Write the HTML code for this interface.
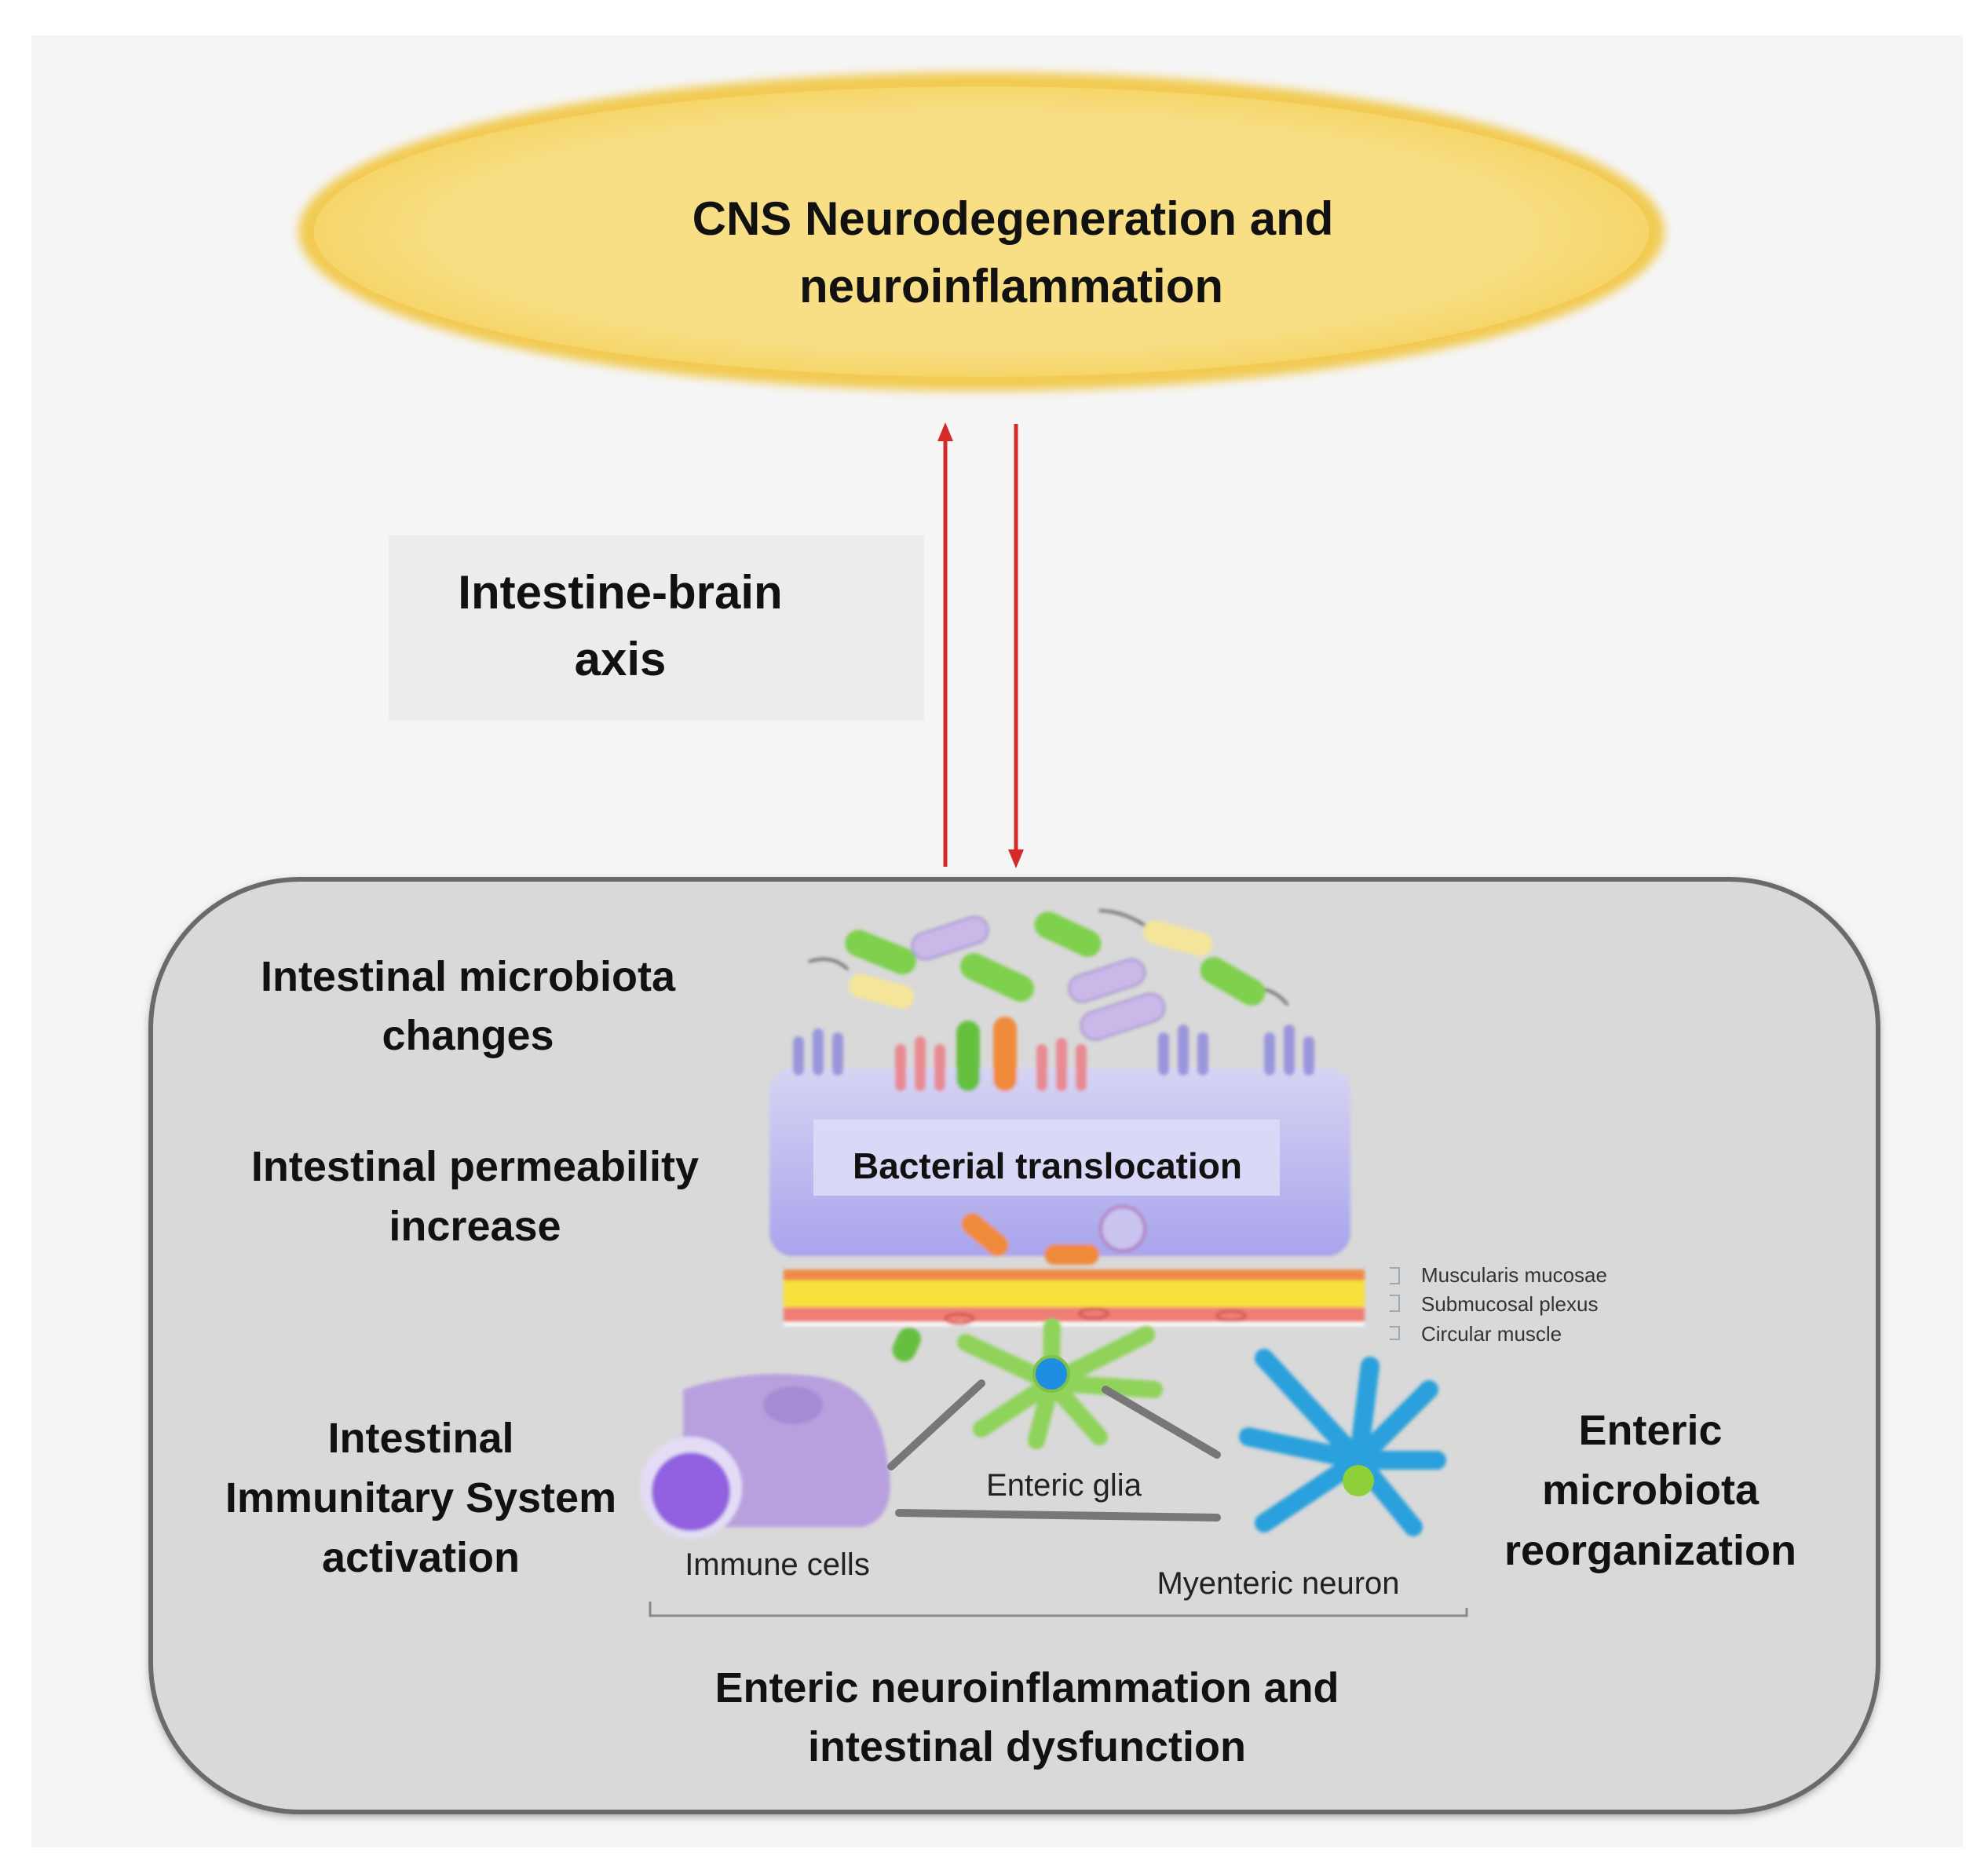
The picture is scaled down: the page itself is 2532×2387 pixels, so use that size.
<!DOCTYPE html>
<html><head><meta charset="utf-8"><style>
html,body{margin:0;padding:0;background:#fff}
svg{display:block}
text{font-family:"Liberation Sans",sans-serif}
</style></head><body>
<svg width="2532" height="2387" viewBox="0 0 2532 2387" xmlns="http://www.w3.org/2000/svg">
<defs>
<filter id="bl" x="-20%" y="-20%" width="140%" height="140%"><feGaussianBlur stdDeviation="6"/></filter>
<filter id="b2"><feGaussianBlur stdDeviation="2"/></filter>
<radialGradient id="eg" cx="50%" cy="50%" r="50%"><stop offset="0.8" stop-color="#f8df86"/><stop offset="1" stop-color="#f6d66a"/></radialGradient>
<linearGradient id="cell" x1="0" y1="0" x2="0" y2="1"><stop offset="0" stop-color="#d6d4f4"/><stop offset="1" stop-color="#a9a4ec"/></linearGradient>
</defs>
<rect x="0" y="0" width="2532" height="2387" fill="#fff"/>
<rect x="40" y="45" width="2460" height="2308" fill="#f5f5f5"/>
<!-- ellipse -->
<ellipse cx="1250" cy="295" rx="870" ry="203" fill="#f2cb52" filter="url(#bl)"/>
<ellipse cx="1250" cy="295" rx="850" ry="185" fill="url(#eg)"/>
<text x="1290" y="299" text-anchor="middle" font-size="60" font-weight="bold" fill="#111">CNS Neurodegeneration and</text>
<text x="1288" y="385" text-anchor="middle" font-size="60" font-weight="bold" fill="#111">neuroinflammation</text>
<!-- arrows -->
<line x1="1204" y1="1104" x2="1204" y2="560" stroke="#d42a2a" stroke-width="5"/>
<polygon points="1204,538 1194,562 1214,562" fill="#d42a2a"/>
<line x1="1294" y1="540" x2="1294" y2="1084" stroke="#d42a2a" stroke-width="5"/>
<polygon points="1294,1106 1284,1082 1304,1082" fill="#d42a2a"/>
<!-- label box -->
<rect x="495" y="682" width="682" height="235" fill="#ececec"/>
<text x="790" y="775" text-anchor="middle" font-size="60" font-weight="bold" fill="#111">Intestine-brain</text>
<text x="790" y="860" text-anchor="middle" font-size="60" font-weight="bold" fill="#111">axis</text>
<!-- big box -->
<rect x="192" y="1124" width="2200" height="1188" rx="190" fill="#888" filter="url(#bl)"/>
<rect x="192" y="1120" width="2200" height="1188" rx="190" fill="#d9d9d9" stroke="#6a6a6a" stroke-width="6"/>
<!-- labels -->
<g font-size="54" font-weight="bold" fill="#111" text-anchor="middle">
<text x="596" y="1262">Intestinal microbiota</text>
<text x="596" y="1337">changes</text>
<text x="605" y="1504">Intestinal permeability</text>
<text x="605" y="1580">increase</text>
<text x="536" y="1850">Intestinal</text>
<text x="536" y="1926">Immunitary System</text>
<text x="536" y="2002">activation</text>
<text x="2102" y="1840">Enteric</text>
<text x="2102" y="1916">microbiota</text>
<text x="2102" y="1993">reorganization</text>
<text x="1308" y="2168">Enteric neuroinflammation and</text>
<text x="1308" y="2243">intestinal dysfunction</text>
</g>
<!-- illustration -->
<g filter="url(#b2)">
<!-- bacteria -->
<g stroke="#555" stroke-width="3" fill="none">
<path d="M1030,1225 q30,-10 50,10"/><path d="M1190,1215 q30,-20 60,-15"/><path d="M1400,1160 q30,0 60,20"/><path d="M1590,1260 q30,-5 50,20"/>
</g>
<g transform="rotate(22 1120 1210)"><rect x="1075" y="1195" width="95" height="34" rx="17" fill="#7ed04e"/></g>
<g transform="rotate(-18 1210 1195)"><rect x="1160" y="1178" width="100" height="34" rx="17" fill="#c9b8e8" stroke="#9a88c8" stroke-width="2"/></g>
<g transform="rotate(15 1120 1262)"><rect x="1080" y="1247" width="85" height="30" rx="15" fill="#f5e59a"/></g>
<g transform="rotate(25 1270 1245)"><rect x="1220" y="1228" width="100" height="34" rx="17" fill="#7ed04e"/></g>
<g transform="rotate(25 1360 1190)"><rect x="1315" y="1173" width="90" height="34" rx="17" fill="#7ed04e"/></g>
<g transform="rotate(-18 1410 1250)"><rect x="1360" y="1232" width="100" height="34" rx="17" fill="#c9b8e8" stroke="#9a88c8" stroke-width="2"/></g>
<g transform="rotate(-18 1430 1295)"><rect x="1375" y="1277" width="110" height="36" rx="18" fill="#c9b8e8" stroke="#9a88c8" stroke-width="2"/></g>
<g transform="rotate(15 1500 1195)"><rect x="1455" y="1180" width="90" height="30" rx="15" fill="#f5e59a"/></g>
<g transform="rotate(30 1570 1250)"><rect x="1525" y="1233" width="90" height="34" rx="17" fill="#7ed04e"/></g>
<!-- epithelium -->
<rect x="980" y="1360" width="740" height="240" rx="30" fill="url(#cell)"/>
<g fill="#9a96dc"><rect x="1010" y="1320" width="14" height="50" rx="7"/><rect x="1035" y="1310" width="14" height="60" rx="7"/><rect x="1060" y="1315" width="14" height="55" rx="7"/><rect x="1475" y="1315" width="14" height="55" rx="7"/><rect x="1500" y="1305" width="14" height="65" rx="7"/><rect x="1525" y="1315" width="14" height="55" rx="7"/><rect x="1610" y="1315" width="14" height="55" rx="7"/><rect x="1635" y="1305" width="14" height="65" rx="7"/><rect x="1660" y="1320" width="14" height="50" rx="7"/></g>
<g fill="#e88a92"><rect x="1140" y="1330" width="14" height="60" rx="7"/><rect x="1165" y="1320" width="14" height="70" rx="7"/><rect x="1190" y="1330" width="14" height="60" rx="7"/><rect x="1320" y="1330" width="14" height="60" rx="7"/><rect x="1345" y="1322" width="14" height="68" rx="7"/><rect x="1370" y="1330" width="14" height="60" rx="7"/></g>
<rect x="1218" y="1300" width="30" height="90" rx="15" fill="#66c040"/>
<rect x="1265" y="1295" width="30" height="95" rx="15" fill="#f08a3a"/>
<g transform="rotate(40 1250 1570)"><rect x="1220" y="1555" width="70" height="28" rx="14" fill="#f08a3a"/></g>
<rect x="1330" y="1585" width="70" height="26" rx="13" fill="#f08a3a"/>
<circle cx="1430" cy="1565" r="28" fill="#c9c4f0" stroke="#b27cc0" stroke-width="4"/>
</g>
<rect x="1036" y="1426" width="594" height="97" fill="#dcdaf6" opacity="0.9"/>
<text x="1334" y="1501" text-anchor="middle" font-size="46" font-weight="bold" fill="#111">Bacterial translocation</text>
<!-- muscle band -->
<g filter="url(#b2)">
<rect x="998" y="1617" width="740" height="72" fill="#fff"/>
<rect x="998" y="1617" width="740" height="14" fill="#f08a48"/>
<rect x="998" y="1631" width="740" height="34" fill="#f7e23e"/>
<path d="M998,1665 L1738,1665 L1738,1684 L998,1684 Z" fill="#ef7f76"/>
<g fill="none" stroke="#c44" stroke-width="3"><ellipse cx="1222" cy="1680" rx="18" ry="6"/><ellipse cx="1393" cy="1673" rx="18" ry="6"/><ellipse cx="1568" cy="1676" rx="18" ry="6"/></g>
<rect x="1140" y="1690" width="30" height="45" rx="15" fill="#66c040" transform="rotate(25 1155 1712)"/>
</g>
<g fill="none" stroke="#9ab" stroke-width="2"><path d="M1770,1615 h12 v20 h-12"/><path d="M1770,1650 h12 v20 h-12"/><path d="M1770,1690 h12 v16 h-12"/></g>
<g font-size="26" fill="#333"><text x="1810" y="1633">Muscularis mucosae</text><text x="1810" y="1670">Submucosal plexus</text><text x="1810" y="1708">Circular muscle</text></g>
<!-- glia -->
<g filter="url(#b2)" stroke="#8fd35a" stroke-width="22" stroke-linecap="round">
<line x1="1339" y1="1761" x2="1230" y2="1710"/><line x1="1339" y1="1761" x2="1340" y2="1690"/><line x1="1339" y1="1761" x2="1460" y2="1700"/><line x1="1339" y1="1761" x2="1250" y2="1820"/><line x1="1339" y1="1761" x2="1320" y2="1835"/><line x1="1339" y1="1761" x2="1400" y2="1830"/><line x1="1339" y1="1761" x2="1470" y2="1770"/>
</g>
<circle cx="1339" cy="1750" r="22" fill="#1e8ee0" stroke="#7fc04a" stroke-width="4"/>
<!-- immune cell -->
<g filter="url(#b2)">
<path d="M870,1770 Q960,1740 1050,1755 Q1120,1770 1130,1860 Q1145,1930 1100,1945 L870,1945 Z" fill="#b8a0de"/>
<ellipse cx="1010" cy="1790" rx="38" ry="24" fill="#a58ad4"/>
<circle cx="880" cy="1895" r="65" fill="#e4dcf4"/>
<circle cx="880" cy="1900" r="50" fill="#9060e0"/>
</g>
<!-- neuron -->
<g filter="url(#b2)" stroke="#2ba0dc" stroke-width="24" stroke-linecap="round">
<line x1="1730" y1="1860" x2="1610" y2="1730"/><line x1="1730" y1="1860" x2="1745" y2="1740"/><line x1="1730" y1="1860" x2="1820" y2="1770"/><line x1="1730" y1="1860" x2="1830" y2="1860"/><line x1="1730" y1="1860" x2="1590" y2="1830"/><line x1="1730" y1="1860" x2="1610" y2="1940"/><line x1="1730" y1="1860" x2="1800" y2="1945"/>
</g>
<circle cx="1730" cy="1886" r="20" fill="#8fcf3a"/>
<!-- connectors -->
<g stroke="#777" stroke-width="10" stroke-linecap="round"><line x1="1250" y1="1762" x2="1135" y2="1868"/><line x1="1408" y1="1770" x2="1550" y2="1853"/><line x1="1145" y1="1927" x2="1550" y2="1933"/></g>
<g font-size="40" fill="#222" text-anchor="middle"><text x="1355" y="1905">Enteric glia</text><text x="990" y="2006">Immune cells</text><text x="1628" y="2030">Myenteric neuron</text></g>
<path d="M828,2040 v18 h1040 v-10" fill="none" stroke="#888" stroke-width="3"/>
</svg>
</body></html>
